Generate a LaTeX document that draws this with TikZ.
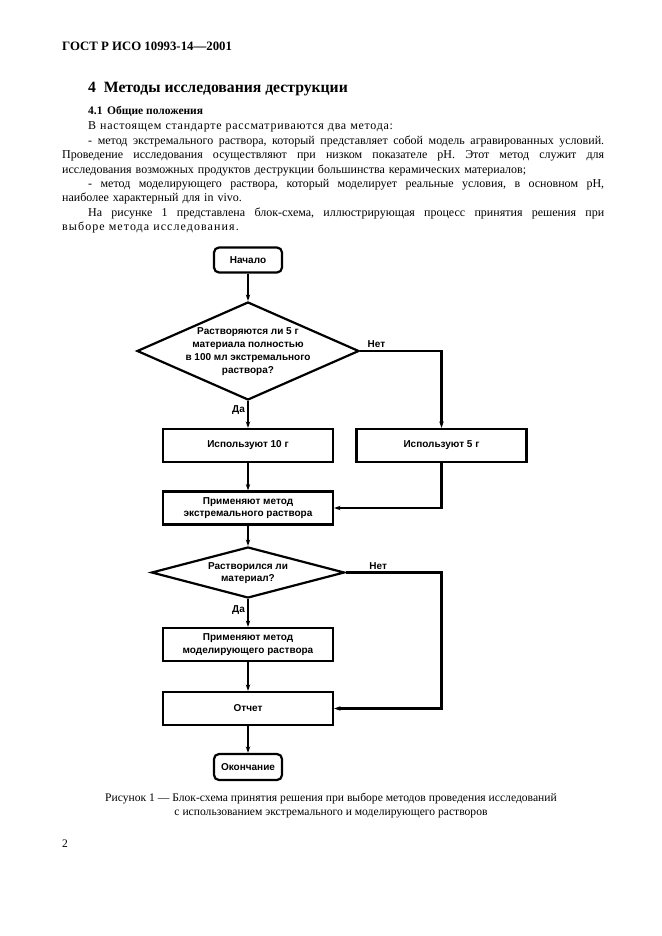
\documentclass[tikz,border=0pt]{standalone}
\usepackage{fontspec}
\setmainfont{Liberation Serif}
\newfontfamily\chartfont{Liberation Sans}
\usetikzlibrary{shapes.geometric,arrows.meta}

\newcommand{\fullline}[1]{\noindent\hbox to 542pt{\spaceskip=0.25em plus 3em minus 0.05em\relax #1}\par}
\newcommand{\lastline}[1]{\noindent{#1}\par}
\newcommand{\qtext}[1]{\smash{\makebox[0pt]{\raisebox{-0.3em}{\begin{tabular}{@{}c@{}}#1\end{tabular}}}}}

\tikzset{
  chartfnt/.style={font=\chartfont\bfseries\fontsize{10}{12.8}\selectfont},
  terminal/.style={draw, chartfnt, rounded corners=5pt, minimum width=68pt, minimum height=25pt, inner sep=0pt},
  process/.style={draw, chartfnt, align=center, minimum width=170pt, minimum height=33pt, inner sep=0pt},
  decision/.style={draw, chartfnt, diamond, inner sep=0pt},
  arr/.style={->, >={Stealth[length=6.5pt,width=4.5pt]}},
  lbl/.style={chartfnt, inner sep=2pt},
}

\begin{document}
\begin{tikzpicture}[x=1pt, y=-1pt]
  \useasboundingbox (0,0) rectangle (661,936);
  % page text
  \node[anchor=base west, inner sep=0pt, font=\bfseries\fontsize{12.8}{14}\selectfont] (head) at (62,51) {ГОСТ Р ИСО 10993-14—2001};
  \node[anchor=base west, inner sep=0pt, font=\bfseries\fontsize{15.7}{18}\selectfont] (sect) at (88,93) {4\hspace{0.5em}Методы исследования деструкции};
  \node[anchor=base west, inner sep=0pt, font=\bfseries\fontsize{11.5}{14}\selectfont] (subsect) at (88,115) {4.1\hspace{0.4em}Общие положения};
  \node[anchor=base west, inner sep=0pt, text width=542pt, font=\fontsize{12}{14.4}\selectfont\frenchspacing] (body) at (62,130) {%
    \lastline{\hspace*{26pt}\addfontfeature{LetterSpace=6}В настоящем стандарте рассматриваются два метода:}
    \fullline{\hskip 26pt - метод экстремального раствора, который представляет собой модель агравированных условий.}
    \fullline{Проведение исследования осуществляют при низком показателе pH. Этот метод служит для}
    \lastline{исследования возможных продуктов деструкции большинства керамических материалов;}
    \fullline{\hskip 26pt - метод моделирующего раствора, который моделирует реальные условия, в основном pH,}
    \lastline{наиболее характерный для in vivo.}
    \fullline{\hskip 26pt На рисунке 1 представлена блок-схема, иллюстрирующая процесс принятия решения при}
    \lastline{\addfontfeature{LetterSpace=9}выборе метода исследования.}};

  % flow chart
  \begin{scope}[line width=2.2pt]
    \node[terminal] (start) at (248,260) {Начало};
    \node[decision, minimum width=222pt, minimum height=98pt] (q1) at (248,351)
      {\qtext{Растворяются ли 5 г\\материала полностью\\в 100 мл экстремального\\раствора?}};
    \node[process] (use10) at (248,445.5) {Используют 10 г};
    \node[process] (use5) at (441.5,445.5) {Используют 5 г};
    \node[process] (ext) at (248,508) {Применяют метод\\экстремального раствора};
    \node[decision, minimum width=193pt, minimum height=51pt] (q2) at (248,572.5)
      {\qtext{Растворился ли\\материал?}};
    \node[process] (model) at (248,644.5) {Применяют метод\\моделирующего раствора};
    \node[process] (report) at (248,708.5) {Отчет};
    \node[terminal, minimum height=26pt] (finish) at (248,767) {Окончание};

    \draw[arr] (start) -- (q1);
    \draw[arr] (q1) -- node[lbl, left, pos=0.35] {Да} (use10);
    \draw[arr] (q1.east) -- node[lbl, above, pos=0.2] {Нет} (q1.east -| use5) -- (use5);
    \draw[arr] (use10) -- (ext);
    \draw[arr] (use5) |- (ext);
    \draw[arr] (ext) -- (q2);
    \draw[arr] (q2) -- node[lbl, left, pos=0.4] {Да} (model);
    \draw[arr] (q2.east) -- node[lbl, above, pos=0.34] {Нет} (q2.east -| use5) |- (report);
    \draw[arr] (model) -- (report);
    \draw[arr] (report) -- (finish);
  \end{scope}

  % caption and page number
  \node[anchor=base, inner sep=0pt, align=center, font=\fontsize{11.6}{14}\selectfont] (caption) at (331,815)
    {Рисунок 1 — Блок-схема принятия решения при выборе методов проведения исследований\\
     с использованием экстремального и моделирующего растворов};
  \node[anchor=base west, inner sep=0pt, font=\fontsize{11.5}{13}\selectfont] (pageno) at (62,847) {2};
\end{tikzpicture}
\end{document}
